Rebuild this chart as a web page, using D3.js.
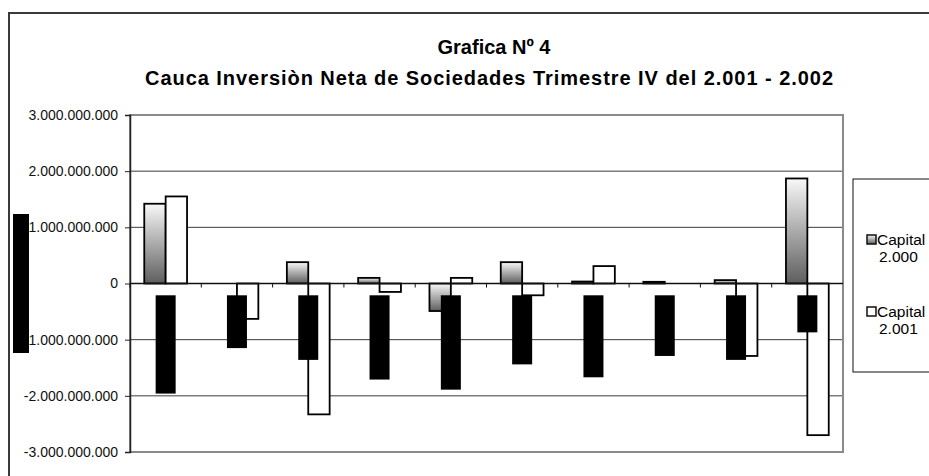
<!DOCTYPE html>
<html lang="es">
<head>
<meta charset="utf-8" />
<title>Grafica Nº 4</title>
<script src="https://d3js.org/d3.v7.min.js"></script>
<style>
  body { margin: 0; background: #fff; overflow: hidden; }
  svg { display: block; font-family: "Liberation Sans", Arial, sans-serif; }
</style>
</head>
<body>
<div id="chart"></div>
<script>
// sectors (their axis labels render as solid black boxes in the original)
var categories = ["1", "2", "3", "4", "5", "6", "7", "8", "9", "10"];
var seriesNames = ["Capital 2.000", "Capital 2.001"];
var capital2000 = [1.42e9, 0, 0.38e9, 0.10e9, -0.49e9, 0.38e9, 0.035e9, 0.03e9, 0.06e9, 1.87e9];
var capital2001 = [1.55e9, -0.63e9, -2.33e9, -0.15e9, 0.10e9, -0.21e9, 0.31e9, 0, -1.29e9, -2.70e9];
// where the blacked-out category labels start and end, in axis units
var labelTop = -0.21e9;
var labelEnd = [-1.96e9, -1.15e9, -1.36e9, -1.71e9, -1.89e9, -1.44e9, -1.67e9, -1.29e9, -1.36e9, -0.87e9];
var yTicks = [-3e9, -2e9, -1e9, 0, 1e9, 2e9, 3e9];

var width = 929, height = 476;
var plot = { left: 130, top: 115, right: 843, bottom: 452 };

var svg = d3.select("#chart").append("svg")
    .attr("width", width)
    .attr("height", height);

var defs = svg.append("defs");
var grad = defs.append("linearGradient")
    .attr("id", "grayGrad")
    .attr("x1", 0).attr("y1", 0).attr("x2", 0).attr("y2", 1);
grad.append("stop").attr("offset", "0%").attr("stop-color", "#f8f8f8");
grad.append("stop").attr("offset", "100%").attr("stop-color", "#5e5e5e");

// outer chart frame (runs off the right and bottom edge)
svg.append("path")
    .attr("d", "M9," + (height + 5) + "V13H" + (width + 5))
    .attr("fill", "none")
    .attr("stroke", "#3a3a3a")
    .attr("stroke-width", 2);

// title
svg.append("text")
    .attr("x", 494).attr("y", 54)
    .attr("text-anchor", "middle")
    .attr("font-size", 20)
    .attr("font-weight", "bold")
    .text("Grafica Nº 4");
svg.append("text")
    .attr("x", 489).attr("y", 85)
    .attr("text-anchor", "middle")
    .attr("font-size", 20)
    .attr("font-weight", "bold")
    .attr("textLength", 688)
    .attr("lengthAdjust", "spacing")
    .text("Cauca Inversiòn Neta de Sociedades Trimestre IV del 2.001 - 2.002");

var x = d3.scaleBand()
    .domain(categories)
    .range([plot.left, plot.right])
    .paddingInner(0.4)
    .paddingOuter(0.2);
var xs = d3.scaleBand()
    .domain(seriesNames)
    .range([0, x.bandwidth()]);
var y = d3.scaleLinear()
    .domain([-3e9, 3e9])
    .range([plot.bottom, plot.top]);
var step = x.step();

// gridlines
svg.append("g")
    .selectAll("line")
    .data(yTicks.filter(function (d) { return d !== 0 && Math.abs(d) < 3e9; }))
    .enter().append("line")
    .attr("x1", plot.left).attr("x2", plot.right)
    .attr("y1", function (d) { return y(d); })
    .attr("y2", function (d) { return y(d); })
    .attr("stroke", "#3c3c3c")
    .attr("stroke-width", 1);

// plot area border
svg.append("rect")
    .attr("x", plot.left).attr("y", plot.top)
    .attr("width", plot.right - plot.left)
    .attr("height", plot.bottom - plot.top)
    .attr("fill", "none")
    .attr("stroke", "#8a8a8a")
    .attr("stroke-width", 2);

// y axis
var yAxis = d3.axisLeft(y)
    .tickValues(yTicks)
    .tickSize(5)
    .tickPadding(7)
    .tickFormat(function (d) {
        return d3.format(",")(d).replace(/,/g, ".").replace("−", "-");
    });
var ya = svg.append("g")
    .attr("transform", "translate(" + plot.left + ",0)")
    .call(yAxis);
ya.select(".domain").attr("stroke", "#222").attr("stroke-width", 1.5);
ya.selectAll(".tick line").attr("stroke", "#222");
ya.selectAll("text")
    .attr("font-size", 14)
    .attr("font-family", "Liberation Sans, Arial, sans-serif")
    .attr("fill", "#111");

// bars
var rows = categories.map(function (c, i) {
    return { cat: c, values: [capital2000[i], capital2001[i]] };
});
var groups = svg.append("g")
    .selectAll("g")
    .data(rows)
    .enter().append("g")
    .attr("transform", function (d) { return "translate(" + x(d.cat) + ",0)"; });

groups.selectAll("rect")
    .data(function (d) {
        return d.values.map(function (v, j) { return { s: seriesNames[j], v: v, j: j }; });
    })
    .enter().append("rect")
    .filter(function (d) { return d.v !== 0; })
    .attr("x", function (d) { return xs(d.s); })
    .attr("width", xs.bandwidth())
    .attr("y", function (d) { return y(Math.max(0, d.v)); })
    .attr("height", function (d) { return Math.max(1, Math.abs(y(d.v) - y(0))); })
    .attr("fill", function (d) { return d.j === 0 ? "url(#grayGrad)" : "#fff"; })
    .attr("stroke", "#000")
    .attr("stroke-width", 1.8);

// category axis on the zero line
svg.append("line")
    .attr("x1", plot.left).attr("x2", plot.right)
    .attr("y1", y(0)).attr("y2", y(0))
    .attr("stroke", "#111")
    .attr("stroke-width", 1.5);
svg.append("g")
    .selectAll("line")
    .data(categories)
    .enter().append("line")
    .attr("x1", function (d) { return x(d) - step * 0.2; })
    .attr("x2", function (d) { return x(d) - step * 0.2; })
    .attr("y1", y(0)).attr("y2", y(0) + 4)
    .attr("stroke", "#111");

// blacked-out category labels
svg.append("g")
    .selectAll("rect")
    .data(categories)
    .enter().append("rect")
    .attr("x", function (d) { return x(d) + x.bandwidth() / 2 - 10; })
    .attr("width", 20)
    .attr("y", y(labelTop))
    .attr("height", function (d, i) { return y(labelEnd[i]) - y(labelTop); })
    .attr("fill", "#000");

// blacked-out y axis title
svg.append("rect")
    .attr("x", 13).attr("width", 16)
    .attr("y", (plot.top + plot.bottom) / 2 - 69.5)
    .attr("height", 139)
    .attr("fill", "#000");

// legend (cut off by the right edge)
var lg = svg.append("g");
lg.append("rect")
    .attr("x", 853).attr("y", 179)
    .attr("width", 200).attr("height", 193)
    .attr("fill", "#fff")
    .attr("stroke", "#111")
    .attr("stroke-width", 1);
var legendRows = [
    { name: seriesNames[0], fill: "url(#grayGrad)", yy: 240 },
    { name: seriesNames[1], fill: "#fff", yy: 312 }
];
legendRows.forEach(function (r) {
    var parts = r.name.split(" ");
    lg.append("rect")
        .attr("x", 867).attr("y", r.yy - 5)
        .attr("width", 9).attr("height", 9)
        .attr("fill", r.fill)
        .attr("stroke", "#111")
        .attr("stroke-width", 1.5);
    lg.append("text")
        .attr("x", 877).attr("y", r.yy + 5)
        .attr("font-size", 15.5)
        .text(parts[0]);
    lg.append("text")
        .attr("x", 879).attr("y", r.yy + 22)
        .attr("font-size", 15.5)
        .text(parts[1]);
});
</script>
</body>
</html>
